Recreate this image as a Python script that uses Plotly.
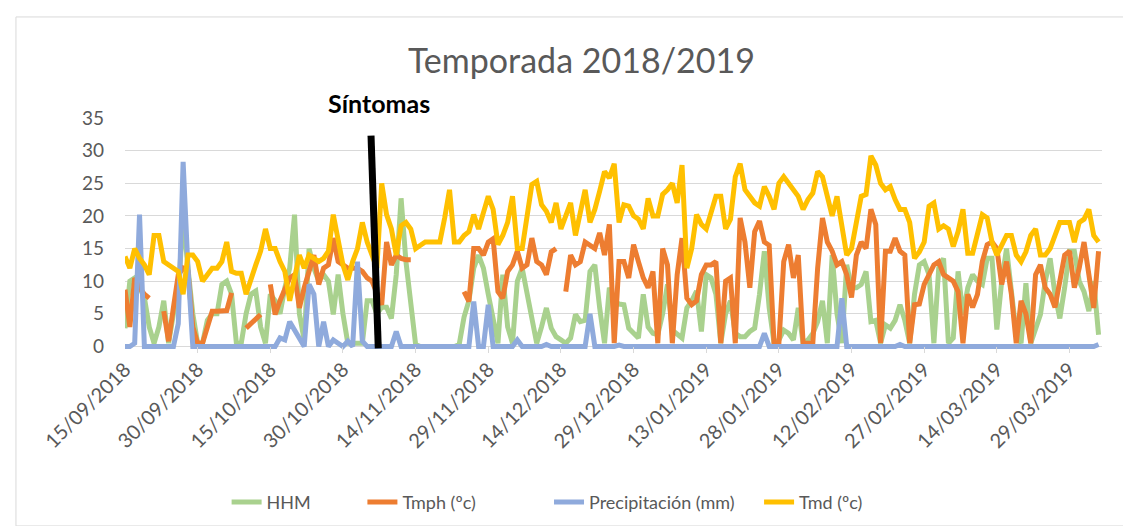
import pandas as pd
import plotly.graph_objects as go

# fechas diarias de la temporada
fechas = pd.date_range("2018-09-15", "2019-04-04", freq="D")

# Tmd (ºc)
tmd = [
    13.8, 12, 15, 13.5, 12.5, 11, 17, 17, 13, 12.5,
    12, 11.5, 8, 14, 14, 13, 10, 11, 12, 12,
    13, 16, 11.5, 11.2, 11.2, 8, 10, 12.5, 14.6, 18,
    15, 15, 13, 11.5, 7, 11, 14, 12, 14, 13.5,
    13, 13.5, 14.6, 20.2, 16, 12.5, 10.2, 13, 15, 19,
    16, 14, 12, 25, 20.2, 18, 14, 18.5, 19, 18,
    15, 15.5, 16, 16, 16, 16, 19.7, 24, 16, 16,
    17, 17.6, 20.2, 18, 20.5, 23, 21, 15.6, 17, 19,
    23, 15, 15, 20, 24.8, 25.3, 21.7, 20.7, 19, 22,
    18, 20, 22, 17, 21, 24, 19, 21, 23.8, 26.8,
    25.8, 28, 19, 21.7, 21.5, 20, 19.5, 18, 22.7, 20,
    20, 23.3, 24, 25, 22, 27.8, 12, 15, 20.2, 18.7,
    18, 20.5, 23, 23, 18, 19.5, 26, 28, 24, 23,
    22, 21.5, 24.5, 23, 21, 25, 26, 25, 24, 23,
    21, 22.5, 23.5, 26.8, 26, 23, 20, 23, 19, 14,
    15, 19, 23, 23.3, 29.2, 27.8, 25, 24, 24.5, 22.5,
    21, 21, 19, 13.5, 14.5, 16, 21.5, 22, 18, 18.5,
    18, 15.3, 17.6, 21, 14.3, 14.3, 17, 20.2, 19.7, 16,
    14, 15.5, 17, 17, 14, 13, 14.5, 17, 18, 14,
    14, 15, 17, 19, 19, 19, 16, 19, 19.5, 21,
    17, 16,
]

# Tmph (ºc), con días sin dato
tmph = [
    8.7, 3, 10.5, 9, 8, 7.4, None, None, 5.4, 0.8,
    6, 11, 12, 11.5, 3, 0.5, 0.5, 3, 5.4, 5.4,
    5.4, 5.5, 8.2, None, None, 2.8, 3.5, 4.3, 4.9, None,
    9.5, 4.9, 7, 9, 10.5, 11, 5.9, 9, 11.5, 14,
    9.5, 12, 12.5, 16.6, 13, 12.5, 12, 12, 12, 11.5,
    10.5, 10, 8, 6.4, 16, 12.5, 14, 13.5, 13.3, 13.3,
    None, None, None, None, None, None, None, None, None, None,
    8.4, 6.9, 15, 15, 14, 16, 16.5, 8.4, 7.4, 11.5,
    12.5, 14.6, 12, 12.5, 16.6, 13, 12.5, 11, 14.5, 15,
    None, 8.4, 14, 12.5, 13, 16, 15.6, 15, 17.4, 14,
    18.7, 0.5, 13, 13, 10.5, 15.6, 13, 10.5, 9, 11.5,
    0.5, 15, 12.5, 0.5, 11, 16.6, 7.4, 6.4, 7, 11,
    12.5, 12.5, 13, 0.5, 10, 10.5, 0.5, 19.7, 16, 9,
    17.6, 19.2, 16, 15.5, 0.5, 0.5, 13, 15.6, 10.5, 14,
    0.5, 0.5, 0.5, 12, 19.7, 16, 14.6, 12.5, 13, 11,
    7.5, 14, 16, 15, 21, 18.7, 0.5, 14.6, 14.6, 16.6,
    14.6, 14, 0.5, 6.4, 6.5, 9.5, 11, 12.5, 13, 11,
    10.5, 10, 8.4, 0.5, 8, 6, 8, 13, 15.6, 16,
    15, 9.5, 13, 8, 0.5, 7, 5, 0.5, 11, 12.5,
    9, 8, 6, 10, 14, 14.6, 9, 12, 16, 11,
    5.9, 14.6,
]

# HHM
hhm = [
    2.8, 10, 10.5, 9, 7.5, 3, 0.5, 3, 7, 0.5,
    5, 8, 20, 12, 5, 0.5, 0.5, 4, 5, 5,
    9.5, 10, 8, 0.5, 0.5, 5, 8, 8.5, 3, 0.5,
    8, 7, 5, 9, 12, 20.2, 5, 1, 15, 12,
    10, 11, 10, 4.9, 11, 5, 0.5, 0.5, 0.5, 0.5,
    7, 7, 5, 6, 6, 4.3, 11, 22.7, 13, 6,
    0.3, 0, 0, 0, 0, 0, 0, 0, 0, 0.3,
    4.5, 7, 12, 14, 12, 8, 4, 0.5, 11, 3,
    0.5, 10, 12, 8, 5, 0.5, 3, 5.9, 2.8, 1.5,
    1, 0.5, 1.3, 4.9, 3.8, 4, 11.5, 12.5, 5.9, 0.5,
    9, 7, 6.5, 6.4, 2.8, 2, 1.3, 8, 3, 2,
    1.8, 5, 9.5, 2.5, 2, 1.3, 5.9, 7, 8.5, 2.3,
    11, 10.5, 8, 0.5, 5, 7, 2, 1.5, 1.5, 2.3,
    2.8, 8, 14.6, 5.9, 0.5, 1, 2.5, 2, 1, 5.9,
    0.5, 1, 2, 3.8, 7, 0.5, 14, 5, 0.5, 12.5,
    9, 9, 9.5, 11.5, 3.8, 4, 0.5, 3.3, 2.8, 4,
    6.4, 4, 0.5, 8, 12.5, 13, 11, 0.5, 12, 13.5,
    0.5, 1.3, 11.5, 4.9, 9, 11, 10, 9.5, 13.5, 13.5,
    2.6, 10, 15, 9, 2, 0.5, 9.7, 0.5, 3, 4.9,
    10, 13.5, 8, 4.3, 9, 14.6, 14.6, 10, 8.4, 5.4,
    10, 1.8,
]

# Precipitación (mm)
precip = [
    0, 0, 0.5, 20.2, 0, 0, 0, 0, 0, 0,
    0, 3.5, 28.3, 12, 0, 0, 0, 0, 0, 0,
    0, 0, 0, 0, 0, 0, 0, 0, 0, 0,
    0, 0, 1.3, 1, 3.8, 2.5, 1, 0, 9.5, 8,
    0, 3.8, 0, 1, 0.5, 0, 0.8, 0, 13, 0.8,
    0, 0, 0, 0, 0, 0, 2.3, 0, 0, 0,
    0, 0, 0, 0, 0, 0, 0, 0, 0, 0,
    0, 0, 6.9, 0, 0, 6.4, 0, 0, 0, 0,
    0, 1, 0, 0, 0, 0, 0, 0.3, 0, 0,
    0, 0, 0, 0, 0, 0, 5, 0, 0, 0,
    0, 0, 0.2, 0, 0, 0, 0, 0, 0, 0,
    0, 0, 0, 0, 0, 0, 0, 0, 0, 0,
    0, 0, 0, 0, 0, 0, 0, 0, 0, 0,
    0, 0, 2, 0, 0, 0, 0, 0, 0, 0,
    0, 0, 0, 0, 0, 0, 0, 0, 7.4, 0,
    0, 0, 0, 0, 0, 0, 0, 0, 0, 0,
    0.3, 0, 0, 0, 0, 0, 0, 0, 0, 0,
    0, 0, 0, 0, 0, 0, 0, 0, 0, 0,
    0, 0, 0, 0, 0, 0, 0, 0, 0, 0,
    0, 0, 0, 0, 0, 0, 0, 0, 0, 0,
    0, 0.3,
]

# nombre, valores, color, leyenda propia y su posición x (paper)
series = [
    ("HHM", hhm, "#A9D18E", "legend", 0.104),
    ("Tmph (ºc)", tmph, "#ED7D31", "legend2", 0.243),
    ("Precipitación (mm)", precip, "#8FAADC", "legend3", 0.434),
    ("Tmd (ºc)", tmd, "#FFC000", "legend4", 0.649),
]

# marca de aparición de síntomas
sintomas_arriba = ("2018-11-04 19:00", 32.3)
sintomas_abajo = ("2018-11-06 07:00", -0.3)

gris = "#595959"
fuente = "Lato"

fig = go.Figure()
for nombre, valores, color, ley, _ in series:
    fig.add_trace(go.Scatter(
        x=fechas, y=valores, name=nombre, mode="lines",
        line=dict(color=color, width=5),
        connectgaps=False, legend=ley,
    ))

fig.add_shape(
    type="line", xref="x", yref="y",
    x0=sintomas_arriba[0], y0=sintomas_arriba[1],
    x1=sintomas_abajo[0], y1=sintomas_abajo[1],
    line=dict(color="black", width=7),
)
fig.add_annotation(
    x="2018-11-06 12:00", y=1.064, xref="x", yref="paper",
    xanchor="center", yanchor="middle",
    text="<b>Síntomas</b>", showarrow=False,
    font=dict(family=fuente, size=25, color="black"),
)

# marco del gráfico
fig.add_shape(
    type="rect", xref="paper", yref="paper",
    x0=-0.1116, x1=1.0317, y0=-0.736, y1=1.43,
    line=dict(color="#d9d9d9", width=1),
)

leyendas = {}
for _, _, _, ley, xpos in series:
    leyendas[ley] = dict(
        orientation="h", x=xpos, xanchor="left",
        y=-0.635, yanchor="middle",
        font=dict(family=fuente, size=18, color=gris),
        bgcolor="rgba(0,0,0,0)",
    )

fig.update_layout(
    width=1131, height=526,
    paper_bgcolor="white", plot_bgcolor="white",
    margin=dict(l=117, r=37, t=110, b=181),
    title=dict(
        text="Temporada 2018/2019", x=0.507, xanchor="center",
        y=0.9, yanchor="middle", yref="container",
        font=dict(family=fuente, size=34, color=gris),
    ),
    font=dict(family=fuente, size=18, color=gris),
    showlegend=True,
    **leyendas,
)

fig.update_xaxes(
    type="date",
    range=["2018-09-15", "2019-04-04 17:00"],
    tick0="2018-09-15", dtick=15 * 86400000,
    tickformat="%d/%m/%Y", tickangle=-45,
    ticks="inside", ticklen=6, tickcolor="#d9d9d9",
    showgrid=False, showline=False, zeroline=False,
    tickfont=dict(family=fuente, size=20, color=gris),
)
fig.update_yaxes(
    range=[-1, 35], tick0=0, dtick=5,
    showgrid=True, gridcolor="#d9d9d9", gridwidth=1,
    zeroline=True, zerolinecolor="#d9d9d9", zerolinewidth=1,
    showline=False, ticks="", ticklabelstandoff=20,
    tickfont=dict(family=fuente, size=19, color=gris),
)

fig.write_html("out.html")
